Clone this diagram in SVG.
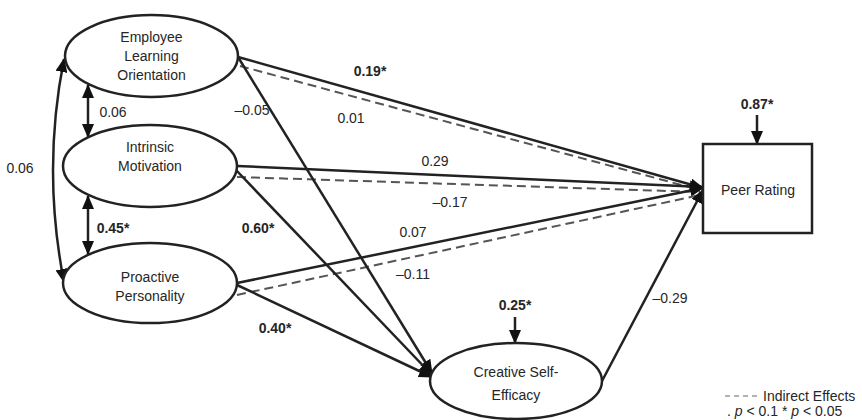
<svg xmlns="http://www.w3.org/2000/svg" width="862" height="420" viewBox="0 0 862 420">
<style>
  text { font-family: "Liberation Sans", Arial, sans-serif; font-size: 14px; fill: #262626; }
  .b { font-weight: bold; }
  .node { fill: #fff; stroke: #222; stroke-width: 2.5; }
  .sol { fill: none; stroke: #222; stroke-width: 2.5; }
  .dash { fill: none; stroke: #555; stroke-width: 2; stroke-dasharray: 9 5; }
  .arr { marker-end: url(#ah); }
  .dbl { marker-start: url(#ah); marker-end: url(#ah); }
</style>
<defs>
  <marker id="ah" markerUnits="userSpaceOnUse" markerWidth="14" markerHeight="12" refX="13" refY="6" orient="auto-start-reverse">
    <path d="M0,0 L14,6 L0,12 z" fill="#111"/>
  </marker>
</defs>
<rect width="862" height="420" fill="#fff"/>
<g id="connectors">
  <!-- to Peer Rating -->
  <path class="sol arr" d="M238,57 L703,188"/>
  <path class="dash" d="M240,66 L700,190"/>
  <path class="sol arr" d="M237,166 L703,187"/>
  <path class="dash" d="M237,177 L700,192"/>
  <path class="sol arr" d="M237,283 L703,188"/>
  <path class="dash" d="M237,295 L700,195"/>
  <path class="sol arr" d="M602,381 L703,190"/>
  <!-- to Creative Self-Efficacy -->
  <path class="sol arr" d="M238,57 L432,373"/>
  <path class="sol arr" d="M236,170 L432,375"/>
  <path class="sol arr" d="M237,285 L432,377"/>
  <!-- disturbances -->
  <path class="sol arr" d="M757,115 L757,144"/>
  <path class="sol arr" d="M515,317 L515,343"/>
  <!-- correlations -->
  <path class="sol dbl" d="M88,85 L88,137"/>
  <path class="sol dbl" d="M88,196 L88,254"/>
  <path class="sol dbl" d="M64,59 Q42,170 64,282"/>
</g>
<g id="n_elo">
  <ellipse class="node" cx="151.5" cy="56" rx="86.5" ry="41"/>
  <text x="151.5" y="42" text-anchor="middle">Employee</text>
  <text x="151.5" y="61" text-anchor="middle">Learning</text>
  <text x="151.5" y="80" text-anchor="middle">Orientation</text>
</g>
<g id="n_im">
  <ellipse class="node" cx="150" cy="166" rx="87" ry="41"/>
  <text x="150" y="152" text-anchor="middle">Intrinsic</text>
  <text x="150" y="171" text-anchor="middle">Motivation</text>
</g>
<g id="n_pp">
  <ellipse class="node" cx="150" cy="283" rx="87" ry="40"/>
  <text x="150" y="282" text-anchor="middle">Proactive</text>
  <text x="150" y="301" text-anchor="middle">Personality</text>
</g>
<g id="n_cse">
  <ellipse class="node" cx="516" cy="381" rx="86" ry="38"/>
  <text x="516" y="377" text-anchor="middle">Creative Self-</text>
  <text x="516" y="400" text-anchor="middle">Efficacy</text>
</g>
<g id="n_pr">
  <rect class="node" x="703" y="144" width="109" height="89"/>
  <text x="758" y="195" text-anchor="middle">Peer Rating</text>
</g>
<g id="labels">
  <text class="b" x="757" y="109" text-anchor="middle">0.87*</text>
  <text class="b" x="515" y="310" text-anchor="middle">0.25*</text>
  <text class="b" x="370" y="76" text-anchor="middle">0.19*</text>
  <text x="351" y="123" text-anchor="middle">0.01</text>
  <text x="252" y="115" text-anchor="middle">–0.05</text>
  <text x="435" y="166" text-anchor="middle">0.29</text>
  <text x="450" y="207" text-anchor="middle">–0.17</text>
  <text class="b" x="258" y="233" text-anchor="middle">0.60*</text>
  <text x="413" y="237" text-anchor="middle">0.07</text>
  <text x="413" y="279" text-anchor="middle">–0.11</text>
  <text class="b" x="275" y="333" text-anchor="middle">0.40*</text>
  <text x="670" y="303" text-anchor="middle">–0.29</text>
  <text x="113" y="117" text-anchor="middle">0.06</text>
  <text class="b" x="113" y="233" text-anchor="middle">0.45*</text>
  <text x="20" y="173" text-anchor="middle">0.06</text>
</g>
<g id="legend">
  <path d="M725,396 L758,396" fill="none" stroke="#999" stroke-width="1.5" stroke-dasharray="5 4"/>
  <text x="763" y="401">Indirect Effects</text>
  <text x="727" y="416" font-size="13">. <tspan font-style="italic">p</tspan> &lt; 0.1 * <tspan font-style="italic">p</tspan> &lt; 0.05</text>
</g>
</svg>
